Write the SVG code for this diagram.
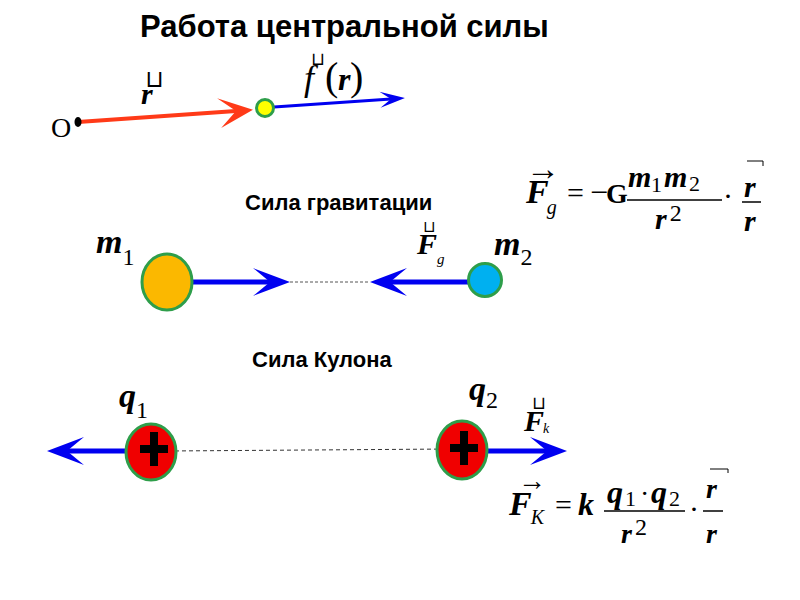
<svg xmlns="http://www.w3.org/2000/svg" width="800" height="600" viewBox="0 0 800 600">
<style>
.ttl{font-family:"Liberation Sans",Arial,sans-serif;font-weight:bold;fill:#000}
.m{font-family:"Liberation Serif","Times New Roman",serif;font-style:italic;font-weight:bold;fill:#000}
.mi{font-family:"Liberation Serif","Times New Roman",serif;font-style:italic;fill:#000}
.mr{font-family:"Liberation Serif","Times New Roman",serif;fill:#000}
.box{font-family:"DejaVu Sans",sans-serif;fill:#000}
.blue{stroke:#0000F0;fill:none}
.ring{stroke:#2E9E4A;stroke-width:3}
</style>
<defs>
<marker id="arrB" markerUnits="userSpaceOnUse" markerWidth="60" markerHeight="40" refX="0" refY="0" viewBox="-20 -20 60 40" orient="auto" overflow="visible">
<path d="M20 0 L-17 -14 L0 0 L-17 14 Z" fill="#0000F0"/>
</marker>
<marker id="arrS" markerUnits="userSpaceOnUse" markerWidth="40" markerHeight="30" refX="0" refY="0" viewBox="-20 -15 40 30" orient="auto" overflow="visible">
<path d="M14 0 L-11 -8 L0 0 L-11 8 Z" fill="#0000F0"/>
</marker>
<marker id="arrR" markerUnits="userSpaceOnUse" markerWidth="60" markerHeight="40" refX="0" refY="0" viewBox="-25 -20 60 40" orient="auto" overflow="visible">
<path d="M17 0 L-18 -14 L0 0 L-16 16 Z" fill="#FF3A18"/>
</marker>
</defs>
<rect width="800" height="600" fill="#fff"/>

<text class="ttl" x="140" y="37" font-size="31">Работа центральной силы</text>

<g id="connectors">
<line x1="78" y1="122" x2="236" y2="111" stroke="#FF3A18" stroke-width="4" marker-end="url(#arrR)"/>
<line x1="274" y1="107" x2="391" y2="99" class="blue" stroke-width="3" marker-end="url(#arrS)"/>
<line x1="192" y1="282" x2="270" y2="282" class="blue" stroke-width="5" marker-end="url(#arrB)"/>
<line x1="470" y1="282" x2="390" y2="282" class="blue" stroke-width="5" marker-end="url(#arrB)"/>
<line x1="290" y1="282" x2="370" y2="282" stroke="#555" stroke-width="1" stroke-dasharray="3 2"/>
<line x1="128" y1="451" x2="67" y2="451" class="blue" stroke-width="5" marker-end="url(#arrB)"/>
<line x1="488" y1="451" x2="547" y2="451" class="blue" stroke-width="5" marker-end="url(#arrB)"/>
<line x1="168" y1="451" x2="452" y2="449" stroke="#333" stroke-width="1" stroke-dasharray="4 3"/>
</g>

<g id="origin">
<text class="mr" x="51" y="137" font-size="28">O</text>
<ellipse cx="78" cy="122" rx="3.5" ry="5" fill="#000"/>
</g>
<g id="label-r">
<text class="box" x="145" y="87" font-size="24">⊔</text>
<text class="m" x="141" y="104" font-size="30">r</text>
</g>
<g id="point">
<circle cx="265" cy="108" r="8.5" fill="#FFFF00" class="ring"/>
</g>
<g id="label-f">
<text class="box" x="311" y="65" font-size="18">⊔</text>
<text y="90"><tspan class="mi" font-size="36" x="304">f</tspan><tspan class="mr" font-size="40" x="325">(</tspan><tspan class="mi" font-size="32" x="338" font-weight="bold">r</tspan><tspan class="mr" font-size="40" x="350">)</tspan></text>
</g>

<g id="gravity-title">
<text class="ttl" x="245" y="210" font-size="22">Сила гравитации</text>
</g>
<g id="m1">
<ellipse cx="167" cy="282" rx="25" ry="28" fill="#FBB800" class="ring"/>
<text x="96" y="253"><tspan class="m" font-size="34">m</tspan><tspan class="mr" font-size="24" dy="12">1</tspan></text>
</g>
<g id="m2">
<circle cx="485" cy="280" r="16.5" fill="#00B0F0" class="ring"/>
<text x="494" y="255"><tspan class="m" font-size="34">m</tspan><tspan class="mr" font-size="24" dy="10">2</tspan></text>
</g>
<g id="label-Fg">
<text class="box" x="423" y="232" font-size="16">⊔</text>
<text x="417" y="254"><tspan class="m" font-size="30">F</tspan><tspan class="mi" font-size="15" dy="10">g</tspan></text>
</g>

<g id="formula-gravity">
<text class="mr" x="526" y="180" font-size="34">→</text>
<text x="526" y="203"><tspan class="m" font-size="34">F</tspan><tspan class="mi" font-size="20" dx="-2" dy="11">g</tspan></text>
<text class="mr" x="567" y="203" font-size="30">=</text>
<text class="mr" x="590" y="203" font-size="32">−</text>
<text class="mr" x="606" y="203" font-size="28" font-weight="bold">G</text>
<text y="187"><tspan class="m" font-size="30" x="628">m</tspan><tspan class="mr" font-size="22" x="651" dy="5">1</tspan><tspan class="m" font-size="30" x="664" dy="-5">m</tspan><tspan class="mr" font-size="22" x="689" dy="4">2</tspan></text>
<line x1="627" y1="200" x2="722" y2="200" stroke="#000" stroke-width="1.5"/>
<text x="655" y="229"><tspan class="m" font-size="30">r</tspan><tspan class="mr" font-size="24" dx="3" dy="-8">2</tspan></text>
<text class="mr" x="723" y="206" font-size="30">·</text>
<text class="m" x="744" y="197" font-size="30">r</text>
<path d="M747 161 H763 V166" stroke="#000" stroke-width="1" fill="none"/>
<line x1="742" y1="202" x2="761" y2="202" stroke="#000" stroke-width="1.5"/>
<text class="m" x="744" y="231" font-size="30">r</text>
</g>

<g id="coulomb-title">
<text class="ttl" x="252" y="367" font-size="22">Сила Кулона</text>
</g>
<g id="q1">
<ellipse cx="151" cy="452" rx="25" ry="28" fill="#F00000" class="ring"/>
<path d="M140 449 H168 M154 432 V466" stroke="#000" stroke-width="8"/>
<text x="119" y="407"><tspan class="m" font-size="34">q</tspan><tspan class="mr" font-size="24" dy="11">1</tspan></text>
</g>
<g id="q2">
<ellipse cx="462" cy="450" rx="25" ry="29" fill="#F00000" class="ring"/>
<path d="M450 448 H478 M464 431 V465" stroke="#000" stroke-width="8"/>
<text x="469" y="400"><tspan class="m" font-size="34">q</tspan><tspan class="mr" font-size="24" dy="8">2</tspan></text>
</g>
<g id="label-Fk">
<text class="box" x="532" y="409" font-size="18">⊔</text>
<text x="524" y="431"><tspan class="m" font-size="30">F</tspan><tspan class="mi" font-size="14" dx="-1" dy="2">k</tspan></text>
</g>

<g id="formula-coulomb">
<text class="mr" x="518" y="490" font-size="28">→</text>
<text x="509" y="515"><tspan class="m" font-size="34">F</tspan><tspan class="mi" font-size="20" dx="-1" dy="9">K</tspan></text>
<text class="mr" x="555" y="515" font-size="30">=</text>
<text class="m" x="578" y="515" font-size="32">k</text>
<text y="503"><tspan class="m" font-size="32" x="607">q</tspan><tspan class="mr" font-size="22" x="625" dy="3">1</tspan><tspan class="mr" font-size="28" x="640" dy="-3">·</tspan><tspan class="m" font-size="32" x="651">q</tspan><tspan class="mr" font-size="22" x="669" dy="3">2</tspan></text>
<line x1="604" y1="511" x2="685" y2="511" stroke="#000" stroke-width="1.5"/>
<text x="621" y="543"><tspan class="m" font-size="28">r</tspan><tspan class="mr" font-size="24" dx="3" dy="-8">2</tspan></text>
<text class="mr" x="689" y="519" font-size="30">·</text>
<text class="m" x="706" y="498" font-size="28">r</text>
<path d="M710 469 H728 V473" stroke="#000" stroke-width="1" fill="none"/>
<line x1="703" y1="511" x2="723" y2="511" stroke="#000" stroke-width="1.5"/>
<text class="m" x="706" y="543" font-size="28">r</text>
</g>
</svg>
